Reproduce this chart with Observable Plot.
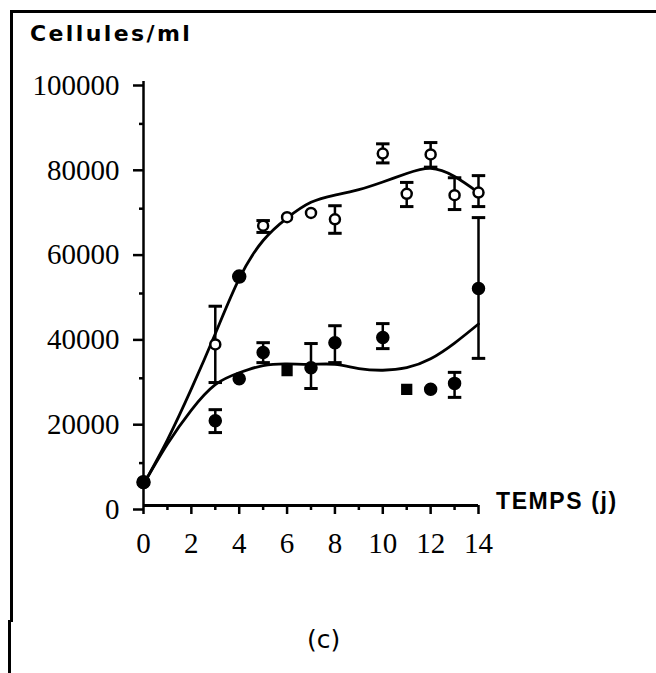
<!DOCTYPE html>
<html>
<head>
<meta charset="utf-8">
<script src="https://cdn.jsdelivr.net/npm/d3@7"></script>
<script src="https://cdn.jsdelivr.net/npm/@observablehq/plot@0.6"></script>
<style>
  html, body { margin: 0; padding: 0; background: #fff; }
  #wrap { position: relative; width: 656px; height: 673px; overflow: hidden; }
  #chart { position: absolute; left: 0; top: 0; }
  .lbl { position: absolute; color: #000; white-space: nowrap; }
  #frameTop { position: absolute; left: 10px; top: 10px; width: 646px; height: 0; border-top: 3px solid #000; }
  #frameLeftA { position: absolute; left: 10px; top: 10px; width: 0; height: 612px; border-left: 3px solid #000; }
  #frameLeftB { position: absolute; left: 8px; top: 620px; width: 0; height: 53px; border-left: 3px solid #000; }
</style>
</head>
<body>
<div id="wrap">
  <div id="chart"></div>
  <div id="frameTop"></div>
  <div id="frameLeftA"></div>
  <div id="frameLeftB"></div>
  <div class="lbl" id="ytitle" style="left:30px; top:21px; font-family:'DejaVu Sans'; font-weight:bold; font-size:22px; letter-spacing:2.4px;">Cellules/ml</div>
  <div class="lbl" id="xtitle" style="left:496px; top:488px; font-family:'Liberation Sans'; font-weight:bold; font-size:23px; letter-spacing:1.6px;">TEMPS (j)</div>
  <div class="lbl" id="panel" style="left:307px; top:625px; font-family:'DejaVu Sans'; font-size:25px;">(c)</div>
</div>
<script>
// ---- data ----
const xTicks = [0, 2, 4, 6, 8, 10, 12, 14];
const xMinorTicks = [1, 3, 5, 7, 9, 11, 13];
const yTicks = [0, 20000, 40000, 60000, 80000, 100000];
const yMinorTicks = [10000, 30000, 50000, 70000, 90000];

// upper series (open circles)
const upDays   = [0,    3,     4,     5,     6,     7,     8,     10,    11,    12,    13,    14];
const upMean   = [5500, 38000, 54000, 66000, 68000, 69000, 67500, 83000, 73500, 82800, 73200, 73800];
const upLo     = [null, 29000, null,  64400, null,  null,  64200, 80800, 70500, 79800, 69800, 70500];
const upHi     = [null, 47000, null,  67200, null,  null,  70700, 85300, 76200, 85600, 77300, 77800];
const upMarker = ["filled","open","filled","open","open","open","open","open","open","open","open","open"];

// lower series (filled circles / squares)
const loDays   = [0,    3,     4,     5,     6,     7,     8,     10,    11,    12,    13,    14];
const loMean   = [5500, 20000, 29900, 36100, 31800, 32500, 38400, 39600, 27400, 27400, 28800, 51200];
const loLo     = [null, 17200, null,  33700, null,  27600, 33700, 37000, null,  null,  25500, 34700];
const loHi     = [null, 22600, null,  38400, null,  38200, 42400, 42900, null,  null,  31400, 67900];
const loMarker = ["circle","circle","circle","circle","square","circle","circle","circle","square","circle","circle","circle"];

// fitted curves
const curveUpDays = [0,    1,     2,     3,     4,     5,     6,     7,     8,     9,     10,    11,    12,    13,    14];
const curveUpVal  = [5000, 15500, 27500, 40500, 53500, 62500, 67800, 71500, 73200, 74500, 76300, 78300, 79500, 77600, 73800];
const curveLoDays = [0,    1,     2,     3,     4,     5,     6,     7,     8,     9,     10,    11,    12,    13,    14];
const curveLoVal  = [5000, 14500, 22500, 28500, 31300, 33000, 33400, 33300, 33300, 32300, 31900, 32500, 34600, 38300, 42800];

// ---- build tables ----
const up = upDays.map((d, i) => ({x: d, y: upMean[i], lo: upLo[i], hi: upHi[i], m: upMarker[i]}));
const lo = loDays.map((d, i) => ({x: d, y: loMean[i], lo: loLo[i], hi: loHi[i], m: loMarker[i]}));
const bars = [...up, ...lo].filter(d => d.lo != null);
const curveUp = curveUpDays.map((d, i) => ({x: d, y: curveUpVal[i]}));
const curveLo = curveLoDays.map((d, i) => ({x: d, y: curveLoVal[i]}));

const hline = { draw(ctx, size) { const w = Math.sqrt(size); ctx.moveTo(-w, 0); ctx.lineTo(w, 0); } };

const K = "#000";
const chart = Plot.plot({
  width: 656,
  height: 673,
  marginLeft: 143,
  marginRight: 178,
  marginTop: 81,
  marginBottom: 168,
  x: {domain: [0, 14], label: null},
  y: {domain: [0, 100000], label: null},
  style: {background: "transparent", fontFamily: "Liberation Serif", fontSize: "29px", color: K, overflow: "visible"},
  marks: [
    Plot.axisY({ticks: yTicks, label: null, tickSize: 10, tickPadding: 14, tickFormat: d => String(d), strokeWidth: 2.5, dy: 4, fontSize: 29}),
    Plot.axisY({ticks: yMinorTicks, label: null, tickSize: 4, tickFormat: () => "", strokeWidth: 2.5}),
    Plot.axisX({ticks: xTicks, label: null, tickSize: 9, tickPadding: 18, tickFormat: d => String(d), strokeWidth: 2.5, fontSize: 29}),
    Plot.axisX({ticks: xMinorTicks, label: null, tickSize: 5, tickFormat: () => "", strokeWidth: 2.5}),
    Plot.ruleX([0], {stroke: K, strokeWidth: 2.5}),
    Plot.ruleY([0], {stroke: K, strokeWidth: 3}),
    Plot.line(curveUp, {x: "x", y: "y", curve: "natural", stroke: K, strokeWidth: 2.8}),
    Plot.line(curveLo, {x: "x", y: "y", curve: "natural", stroke: K, strokeWidth: 2.8}),
    Plot.ruleX(bars, {x: "x", y1: "lo", y2: "hi", stroke: K, strokeWidth: 2.5}),
    Plot.dot(bars, {x: "x", y: "lo", symbol: hline, r: 3.8, stroke: K, strokeWidth: 3}),
    Plot.dot(bars, {x: "x", y: "hi", symbol: hline, r: 3.8, stroke: K, strokeWidth: 3}),
    Plot.dot(up.filter(d => d.m === "open"), {x: "x", y: "y", r: 5, fill: "#fff", stroke: K, strokeWidth: 2.5}),
    Plot.dot(up.filter(d => d.m === "filled"), {x: "x", y: "y", r: 6.5, fill: K, stroke: K}),
    Plot.dot(lo.filter(d => d.m === "circle"), {x: "x", y: "y", r: 6, fill: K, stroke: K}),
    Plot.dot(lo.filter(d => d.m === "square"), {x: "x", y: "y", symbol: "square", r: 5.5, fill: K, stroke: K})
  ]
});
document.getElementById("chart").appendChild(chart);
</script>
</body>
</html>
